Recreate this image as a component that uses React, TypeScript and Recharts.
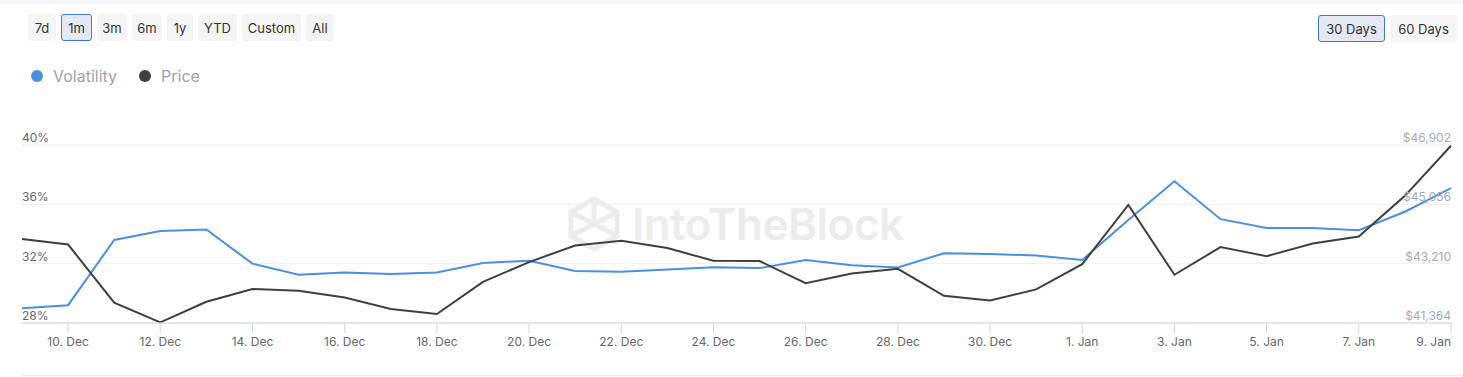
import { LineChart, Line, XAxis, YAxis, CartesianGrid } from "recharts";

const dates = [
  "9. Dec", "10. Dec", "11. Dec", "12. Dec", "13. Dec", "14. Dec", "15. Dec", "16. Dec",
  "17. Dec", "18. Dec", "19. Dec", "20. Dec", "21. Dec", "22. Dec", "23. Dec", "24. Dec",
  "25. Dec", "26. Dec", "27. Dec", "28. Dec", "29. Dec", "30. Dec", "31. Dec", "1. Jan",
  "2. Jan", "3. Jan", "4. Jan", "5. Jan", "6. Jan", "7. Jan", "8. Jan", "9. Jan",
];

// volatility in %
const volatility = [
  29.0, 29.2, 33.6, 34.2, 34.3, 32.0, 31.25, 31.4, 31.3, 31.4, 32.05, 32.2, 31.5, 31.45,
  31.6, 31.75, 31.7, 32.25, 31.9, 31.75, 32.7, 32.65, 32.55, 32.25, 34.95, 37.55, 35.0,
  34.4, 34.4, 34.25, 35.5, 37.1,
];

// price in USD
const price = [
  43980, 43805, 41995, 41385, 42025, 42420, 42365, 42160, 41800, 41645, 42645, 43260,
  43775, 43920, 43695, 43300, 43290, 42605, 42905, 43050, 42210, 42065, 42410, 43195,
  45040, 42865, 43725, 43445, 43835, 44055, 45320, 46880,
];

const xTicks = [
  "10. Dec", "12. Dec", "14. Dec", "16. Dec", "18. Dec", "20. Dec", "22. Dec", "24. Dec",
  "26. Dec", "28. Dec", "30. Dec", "1. Jan", "3. Jan", "5. Jan", "7. Jan", "9. Jan",
];
const volTicks = [28, 32, 36, 40];
const priceTicks = [41364, 43210, 45056, 46902];

const rangeButtons = ["7d", "1m", "3m", "6m", "1y", "YTD", "Custom", "All"];
const rangeWidths = [28, 31, 30, 30, 26, 39, 59, 28];
const dayButtons = ["30 Days", "60 Days"];

const PLOT_LEFT = 22;
const PLOT_RIGHT = 1451;

const data = dates.map((d, i) => ({ date: d, vol: volatility[i], price: price[i] }));

function LeftTick({ y, payload }: { y?: number; payload?: { value: number } }) {
  return (
    <text x={PLOT_LEFT} y={(y ?? 0) - 3} textAnchor="start" fill="#5f6674" fontSize={12}>
      {payload?.value}%
    </text>
  );
}

function RightTick({ y, payload }: { y?: number; payload?: { value: number } }) {
  return (
    <text x={PLOT_RIGHT} y={(y ?? 0) - 3} textAnchor="end" fill="#a3acb8" fontSize={12}>
      ${payload?.value.toLocaleString("en-US")}
    </text>
  );
}

function DateTick({ x, y, payload }: { x?: number; y?: number; payload?: { value: string } }) {
  const last = payload?.value === xTicks[xTicks.length - 1];
  return (
    <text
      x={x}
      y={(y ?? 0) + 11}
      textAnchor={last ? "end" : "middle"}
      fill="#666666"
      fontSize={12}
    >
      {payload?.value}
    </text>
  );
}

function Button({ label, width, active }: { label: string; width: number; active?: boolean }) {
  return (
    <div
      style={{
        width,
        height: 27,
        boxSizing: "border-box",
        borderRadius: 3,
        background: active ? "#e3e8f3" : "#f5f5f5",
        border: active ? "1px solid #3d78e3" : "1px solid #f5f5f5",
        color: "#333",
        fontSize: 13,
        display: "flex",
        alignItems: "center",
        justifyContent: "center",
      }}
    >
      {label}
    </div>
  );
}

export default function App() {
  return (
    <div
      style={{
        position: "absolute",
        left: 0,
        top: 0,
        width: 1463,
        height: 377,
        background: "#fff",
        fontFamily: "Inter, 'Noto Sans', sans-serif",
        overflow: "hidden",
      }}
    >
      <div style={{ position: "absolute", left: 0, top: 0, width: 1463, height: 4, background: "#f5f6fa" }} />

      <div style={{ position: "absolute", left: 28, top: 14, display: "flex", gap: 5 }}>
        {rangeButtons.map((b, i) => (
          <Button key={b} label={b} width={rangeWidths[i]} active={b === "1m"} />
        ))}
      </div>
      <div style={{ position: "absolute", left: 1318, top: 15, display: "flex", gap: 5 }}>
        {dayButtons.map((b) => (
          <Button key={b} label={b} width={67} active={b === "30 Days"} />
        ))}
      </div>

      <div
        style={{
          position: "absolute",
          left: 31,
          top: 66,
          display: "flex",
          alignItems: "center",
          fontSize: 16,
          color: "#9aa3ad",
        }}
      >
        <span style={{ width: 12, height: 12, borderRadius: 6, background: "#4a90e2", marginRight: 10 }} />
        <span style={{ marginRight: 22 }}>Volatility</span>
        <span style={{ width: 12, height: 12, borderRadius: 6, background: "#3d3f42", marginRight: 10 }} />
        <span>Price</span>
      </div>

      {/* watermark */}
      <div
        style={{
          position: "absolute",
          left: 568,
          top: 196,
          display: "flex",
          alignItems: "center",
          color: "#ececec",
          fontSize: 44,
          fontWeight: 600,
          letterSpacing: -0.5,
        }}
      >
        <svg width={52} height={56} viewBox="0 0 52 56" style={{ marginRight: 12 }}>
          <g fill="none" stroke="#ececec" strokeWidth={5}>
            <path d="M26 3 L49 16 L49 40 L26 53 L3 40 L3 16 Z" />
            <path d="M3 16 L49 40 M49 16 L3 40 M26 3 L26 28" />
          </g>
        </svg>
        IntoTheBlock
      </div>

      <div style={{ position: "absolute", left: 22, top: 375, width: 1441, height: 1, background: "#e8e8e8" }} />

      <div style={{ position: "absolute", left: 0, top: 0 }}>
        <LineChart
          width={1463}
          height={377}
          data={data}
          margin={{ top: 145, right: 11, bottom: 24, left: 21 }}
        >
          <CartesianGrid yAxisId="left" vertical={false} stroke="#efefef" />
          <XAxis
            dataKey="date"
            ticks={xTicks}
            interval={0}
            height={30}
            stroke="#ccd6eb"
            tickSize={10}
            tick={<DateTick />}
          />
          <YAxis
            yAxisId="left"
            orientation="left"
            width={1}
            domain={[28, 40]}
            ticks={volTicks}
            interval={0}
            axisLine={false}
            tickLine={false}
            tick={<LeftTick />}
            allowDataOverflow
          />
          <YAxis
            yAxisId="right"
            orientation="right"
            width={1}
            domain={[41364, 46902]}
            ticks={priceTicks}
            interval={0}
            axisLine={false}
            tickLine={false}
            tick={<RightTick />}
            allowDataOverflow
          />
          <Line
            yAxisId="left"
            dataKey="vol"
            stroke="#4a90e2"
            strokeWidth={2}
            dot={false}
            isAnimationActive={false}
          />
          <Line
            yAxisId="right"
            dataKey="price"
            stroke="#3d3f42"
            strokeWidth={2}
            dot={false}
            isAnimationActive={false}
          />
        </LineChart>
      </div>
    </div>
  );
}
